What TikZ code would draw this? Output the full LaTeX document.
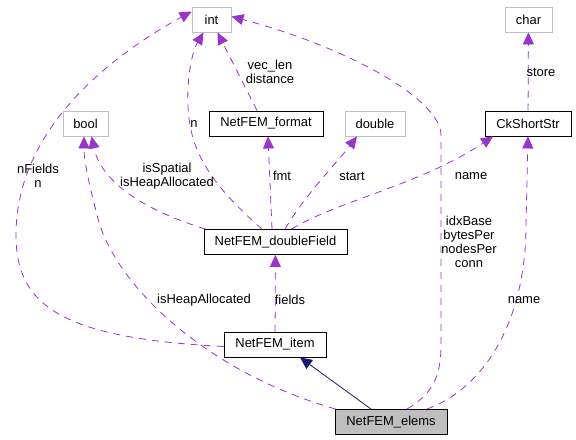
\documentclass[tikz,border=0pt]{standalone}
\usepackage{fontspec}
\setmainfont{Liberation Sans}
\usetikzlibrary{arrows.meta}
\definecolor{edgepurple}{HTML}{9A32CD}
\definecolor{inhnavy}{HTML}{191970}
\definecolor{boxgray}{HTML}{BFBFBF}
\tikzset{
  cls/.style={draw=black, line width=0.9bp, minimum height=25bp, inner sep=0pt, font=\fontsize{13}{15}\selectfont},
  ext/.style={draw=boxgray, line width=0.9bp, minimum height=25bp, inner sep=0pt, font=\fontsize{13}{15}\selectfont},
  usage/.style={draw=edgepurple, line width=0.8bp, dash pattern=on 7bp off 6bp, -{Triangle[length=12bp,width=11bp]}, edgepurple},
  inherit/.style={draw=inhnavy, line width=0.8bp, -{Triangle[length=12bp,width=11bp]}, inhnavy},
  lbl/.style={inner sep=0pt, align=center, font=\fontsize{13}{14}\selectfont}
}
\begin{document}
\begin{tikzpicture}[x=1bp,y=-1bp]
\useasboundingbox (0,0) rectangle (576,440);
% nodes
\node[ext, minimum width=39bp] (int) at (211.5,19.5) {int};
\node[ext, minimum width=47bp] (char) at (528.5,19.5) {char};
\node[ext, minimum width=45bp] (bool) at (85.5,123.5) {bool};
\node[cls, minimum width=114bp] (fmt) at (266,123.5) {NetFEM\_format};
\node[ext, minimum width=60bp] (double) at (375,123.5) {double};
\node[cls, minimum width=86bp] (ck) at (528,123.5) {CkShortStr};
\node[cls, minimum width=143bp] (df) at (275.5,242) {NetFEM\_doubleField};
\node[cls, minimum width=102bp] (item) at (275,344.5) {NetFEM\_item};
\node[cls, fill=boxgray, minimum width=112bp] (elems) at (391,422) {NetFEM\_elems};
% coordinates on borders
\coordinate (itemL) at ([yshift=-2bp]item.west);
\coordinate (intL) at ([yshift=8bp]int.west);
\coordinate (intB1) at ([xshift=-8bp]int.south);
\coordinate (intB2) at ([xshift=6bp]int.south);
\coordinate (intR) at ([yshift=3bp]int.east);
\coordinate (boolB1) at ([xshift=-1.5bp]bool.south);
\coordinate (boolB2) at ([xshift=6bp]bool.south);
\coordinate (dfN1) at ([xshift=-13.5bp]df.north);
\coordinate (dfN2) at ([xshift=-3.5bp]df.north);
\coordinate (dfN3) at ([xshift=9.5bp]df.north);
\coordinate (dfN4) at ([xshift=16bp]df.north);
\coordinate (dfNW) at ([xshift=2bp]df.north west);
\coordinate (elN1) at ([xshift=-20bp]elems.north);
\coordinate (elN2) at ([xshift=16bp]elems.north);
\coordinate (elN3) at ([xshift=36bp]elems.north);
\coordinate (elNW) at ([xshift=1bp]elems.north west);
\coordinate (fmtN) at ([xshift=-9bp]fmt.north);
\coordinate (fmtS) at ([xshift=2bp]fmt.south);
\coordinate (dblS) at ([xshift=-18bp]double.south);
\coordinate (ckS1) at ([xshift=-35bp]ck.south);
\coordinate (itemSE) at ([xshift=25bp]item.south);
% edges
\draw[usage] (itemL) .. controls (60,338) and (16,305) .. (16,235)
  .. controls (16,135) and (100,62) .. (intL);
\draw[usage] (dfN1) .. controls (200,175) and (186,140) .. (188,90)
  .. controls (189,60) and (196,45) .. (intB1);
\draw[usage] (fmtN) -- (intB2);
\draw[usage] (dfNW) .. controls (150,212) and (102,185) .. (boolB2);
\draw[usage] (elNW) .. controls (200,370) and (112,280) .. (97,215)
  .. controls (88,180) and (84,160) .. (boolB1);
\draw[usage] (dfN2) -- (fmtS);
\draw[usage] (dfN3) .. controls (305,195) and (335,165) .. (dblS);
\draw[usage] (dfN4) .. controls (340,200) and (420,185) .. (ckS1);
\draw[usage] (item) -- (df);
\draw[usage] (elN2) .. controls (430,395) and (441,380) .. (441,345)
  -- (441,135) .. controls (441,100) and (350,48) .. (intR);
\draw[usage] (elN3) .. controls (485,388) and (526,320) .. (526,225)
  -- (ck.south);
\draw[usage] (ck) -- (char);
\draw[inherit] (elN1) -- (itemSE);
% labels
\node[lbl] (l1) at (38,176) {nFields\\n};
\node[lbl] (l2) at (194,124) {n};
\node[lbl] (l3) at (270,72) {vec\_len\\distance};
\node[lbl] (l4) at (167,176) {isSpatial\\isHeapAllocated};
\node[lbl] (l5) at (204,300) {isHeapAllocated};
\node[lbl] (l6) at (282,176) {fmt};
\node[lbl] (l7) at (352,176) {start};
\node[lbl] (l8) at (471,176) {name};
\node[lbl] (l9) at (290,300) {fields};
\node[lbl] (l10) at (469,242) {idxBase\\bytesPer\\nodesPer\\conn};
\node[lbl] (l11) at (524,300) {name};
\node[lbl] (l12) at (541,72) {store};
\end{tikzpicture}
\end{document}
